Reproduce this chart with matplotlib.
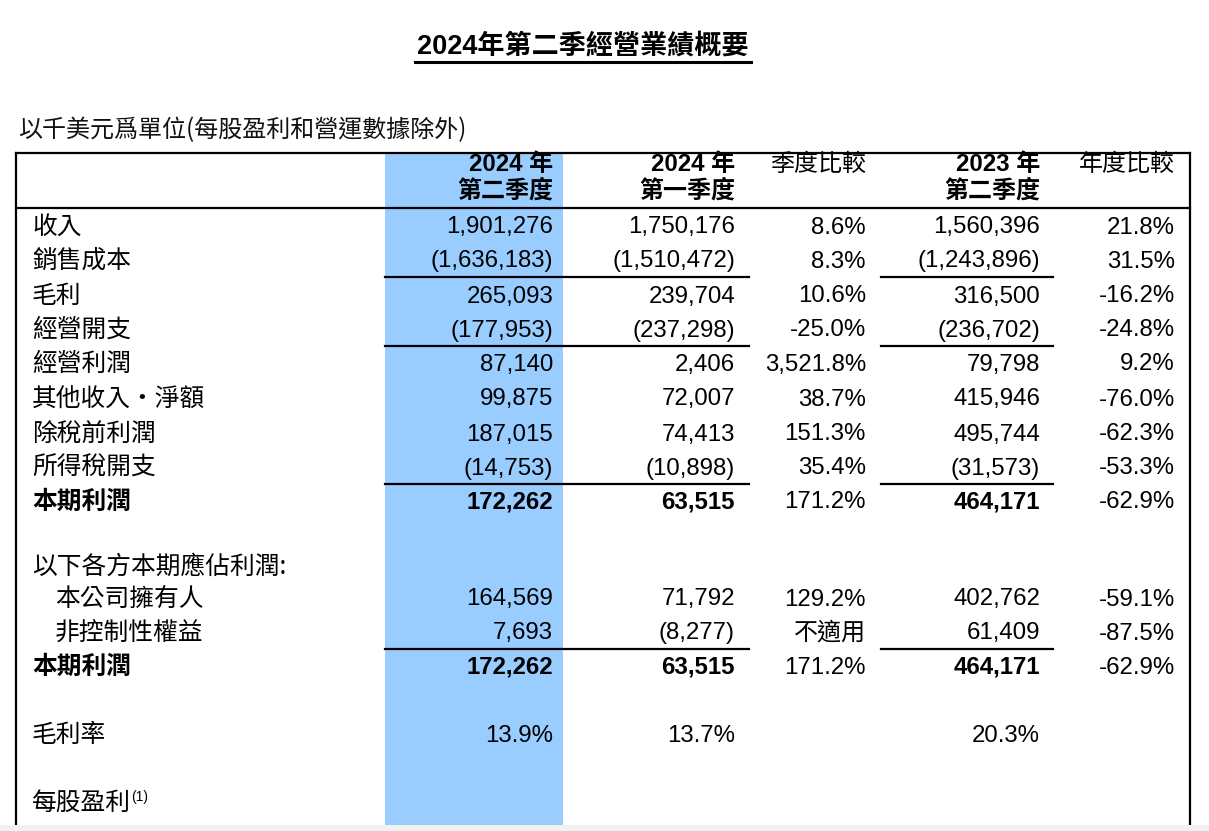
import matplotlib
matplotlib.use("Agg")
import matplotlib.pyplot as plt
from matplotlib.patches import Rectangle

# ---------------- data ----------------
title = "2024年第二季經營業績概要"
subtitle = "以千美元爲單位(每股盈利和營運數據除外)"

col_head1 = ["2024 年", "2024 年", "季度比較", "2023 年", "年度比較"]
col_head2 = ["第二季度", "第一季度", "", "第二季度", ""]
col_head_bold = [True, True, False, True, False]

labels = ["收入", "銷售成本", "毛利", "經營開支", "經營利潤", "其他收入‧淨額",
          "除稅前利潤", "所得稅開支", "本期利潤",
          "以下各方本期應佔利潤:", "本公司擁有人", "非控制性權益", "本期利潤",
          "毛利率", "每股盈利"]
indent = [False] * 10 + [True, True] + [False] * 3
bold_rows = [False] * 8 + [True] + [False] * 3 + [True] + [False] * 2

q2_2024 = ["1,901,276", "(1,636,183)", "265,093", "(177,953)", "87,140", "99,875",
           "187,015", "(14,753)", "172,262",
           "", "164,569", "7,693", "172,262", "13.9%", ""]
q1_2024 = ["1,750,176", "(1,510,472)", "239,704", "(237,298)", "2,406", "72,007",
           "74,413", "(10,898)", "63,515",
           "", "71,792", "(8,277)", "63,515", "13.7%", ""]
qoq = ["8.6%", "8.3%", "10.6%", "-25.0%", "3,521.8%", "38.7%",
       "151.3%", "35.4%", "171.2%",
       "", "129.2%", "不適用", "171.2%", "", ""]
q2_2023 = ["1,560,396", "(1,243,896)", "316,500", "(236,702)", "79,798", "415,946",
           "495,744", "(31,573)", "464,171",
           "", "402,762", "61,409", "464,171", "20.3%", ""]
yoy = ["21.8%", "31.5%", "-16.2%", "-24.8%", "9.2%", "-76.0%",
       "-62.3%", "-53.3%", "-62.9%",
       "", "-59.1%", "-87.5%", "-62.9%", "", ""]

# rows after which a subtotal rule is drawn
rule_after = [1, 3, 7, 11]

# ---------------- layout ----------------
W, H = 1209, 831
fig = plt.figure(figsize=(W / 100, H / 100), dpi=100)
ax = fig.add_axes([0, 0, 1, 1])
ax.set_xlim(0, W)
ax.set_ylim(H, 0)
ax.axis("off")

NUMF = ["Liberation Sans", "Noto Sans CJK TC", "DejaVu Sans"]
CJKF = ["Noto Sans CJK TC", "DejaVu Sans"]
FS = 17.3
LFS = 17.8

row_y = [225, 259, 294, 328, 362, 397, 432, 466, 500,
         565, 597, 631, 665, 733, 801]
col_right = [553, 735, 866, 1040, 1175]
columns = [q2_2024, q1_2024, qoq, q2_2023, yoy]

left, right, top, bottom = 16, 1190, 152.5, 825

# blue highlight column
ax.add_patch(Rectangle((385, top), 563 - 385, bottom - top, facecolor="#99CCFF",
                       edgecolor="none", zorder=0))
# bottom grey strip
ax.add_patch(Rectangle((0, bottom), W, H - bottom, facecolor="#F1F1F1",
                       edgecolor="none", zorder=3))

lw = 1.6
ax.plot([left, right], [top, top], color="black", lw=lw, solid_capstyle="projecting", zorder=2)
ax.plot([left, left], [top, bottom], color="black", lw=lw, zorder=2)
ax.plot([right, right], [top, bottom], color="black", lw=lw, zorder=2)
ax.plot([left, right], [208, 208], color="black", lw=lw, zorder=2)

for r in rule_after:
    y = (row_y[r] + row_y[r + 1]) / 2 + 0.5
    ax.plot([385, 749], [y, y], color="black", lw=lw, zorder=2)
    ax.plot([881, 1053], [y, y], color="black", lw=lw, zorder=2)

# title
ax.text(583, 47, title, ha="center", va="center", fontsize=19.5, fontweight="bold",
        family=NUMF)
ax.plot([415, 751], [62, 62], color="black", lw=2.2)

# subtitle
ax.text(18, 130, subtitle, ha="left", va="center", fontsize=17.3, style="italic",
        family=CJKF, color="#111111")

# header
for c, (h1, h2, b) in enumerate(zip(col_head1, col_head2, col_head_bold)):
    ax.text(col_right[c], 171, h1, ha="right", va="baseline", fontsize=FS,
            fontweight="bold" if b else "normal", family=NUMF)
    if h2:
        ax.text(col_right[c], 198, h2, ha="right", va="baseline", fontsize=FS,
                fontweight="bold" if b else "normal", family=NUMF)

# rows
for i, lab in enumerate(labels):
    yb = row_y[i] + 8.5
    x0 = 55 if indent[i] else 32
    fw = "bold" if bold_rows[i] else "normal"
    if lab == "每股盈利":
        ax.text(x0, yb, lab, ha="left", va="baseline", fontsize=LFS, family=CJKF)
        ax.text(x0 + 99, yb - 9, "(1)", ha="left", va="baseline", fontsize=10, family=NUMF)
    else:
        ax.text(x0, yb, lab, ha="left", va="baseline", fontsize=LFS, fontweight=fw,
                family=CJKF)
    for c, col in enumerate(columns):
        v = col[i]
        if not v:
            continue
        cfw = fw if c in (0, 1, 3) else "normal"
        ax.text(col_right[c], yb, v, ha="right", va="baseline", fontsize=FS,
                fontweight=cfw, family=NUMF)

fig.savefig("out.png", dpi=100)
